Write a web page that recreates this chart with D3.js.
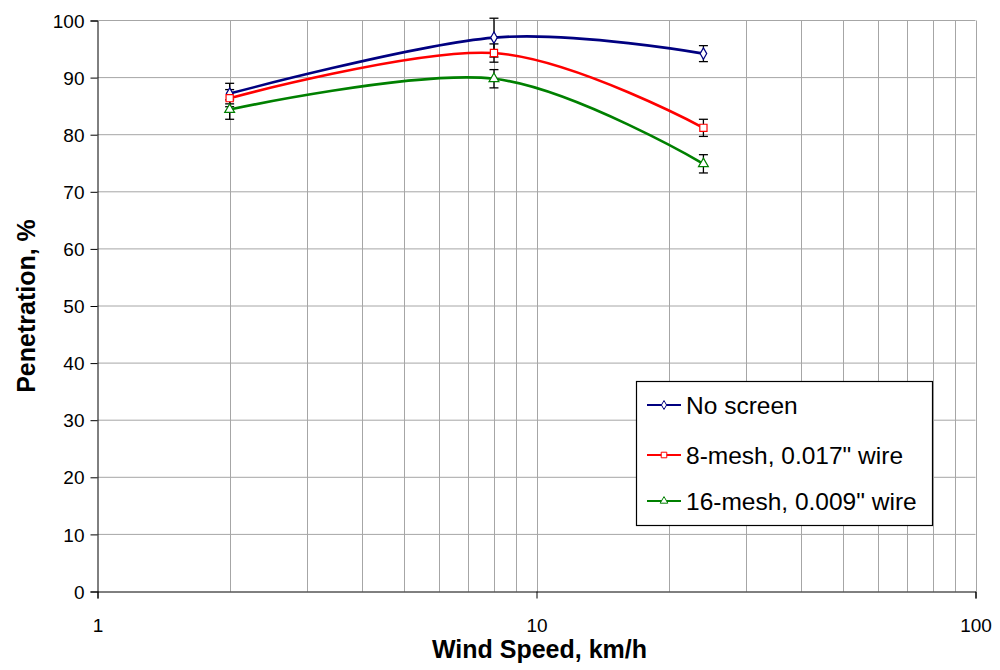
<!DOCTYPE html>
<html>
<head>
<meta charset="utf-8">
<script src="https://cdn.jsdelivr.net/npm/d3@7"></script>
<style>
  html, body { margin: 0; padding: 0; background: #fff; }
  svg { display: block; font-family: "Liberation Sans", Arial, sans-serif; }
</style>
</head>
<body>
<svg id="chart" width="1000" height="670"></svg>
<script>
// Wind speed (km/h) at which penetration was measured
const speeds = [2, 8, 24];

// Penetration (%) per screen configuration, with error half-widths
const seriesNames = ["No screen", "8-mesh, 0.017\" wire", "16-mesh, 0.009\" wire"];
const noScreen = [87.2, 97.0, 94.2];
const noScreenErr = [1.8, 3.4, 1.4];
const mesh8 = [86.4, 94.3, 81.2];
const mesh8Err = [1.5, 1.6, 1.5];
const mesh16 = [84.4, 89.8, 74.9];
const mesh16Err = [1.7, 1.6, 1.6];

// Axis ticks
const xTicks = [1, 10, 100];
const xGrid = [2, 3, 4, 5, 6, 7, 8, 9, 10, 20, 30, 40, 50, 60, 70, 80, 90, 100];
const yTicks = [0, 10, 20, 30, 40, 50, 60, 70, 80, 90, 100];

const colors = ["#000080", "#ff0000", "#008000"];
const symbols = [d3.symbolDiamond, d3.symbolSquare, d3.symbolTriangle];
const symbolSizes = [38, 52, 42];

const series = [
  { name: seriesNames[0], values: noScreen, err: noScreenErr },
  { name: seriesNames[1], values: mesh8, err: mesh8Err },
  { name: seriesNames[2], values: mesh16, err: mesh16Err }
];

const svg = d3.select("#chart");
const plotLeft = 97.5, plotRight = 975.5, plotTop = 20.5, plotBottom = 591.5;

const x = d3.scaleLog().domain([1, 100]).range([plotLeft, plotRight]);
const y = d3.scaleLinear().domain([0, 100]).range([plotBottom, plotTop]);

// Grid lines
const grid = svg.append("g").attr("stroke", "#a6a6a6").attr("stroke-width", 1);
grid.selectAll("line.h").data(yTicks.filter(d => d > 0)).join("line")
  .attr("x1", plotLeft).attr("x2", plotRight)
  .attr("y1", d => y(d)).attr("y2", d => y(d));
grid.selectAll("line.v").data(xGrid).join("line")
  .attr("x1", d => Math.round(x(d)) + 0.5).attr("x2", d => Math.round(x(d)) + 0.5)
  .attr("y1", plotTop).attr("y2", plotBottom);

// Y axis
const yAxis = svg.append("g")
  .attr("transform", `translate(${plotLeft},0)`)
  .call(d3.axisLeft(y).tickValues(yTicks).tickSize(7).tickPadding(6).tickFormat(d3.format("d")));
yAxis.select(".domain").attr("stroke", "#000");
yAxis.selectAll(".tick line").attr("stroke", "#000");
yAxis.selectAll(".tick text").attr("font-size", 19).attr("fill", "#000")
  .attr("font-family", "Liberation Sans, Arial, sans-serif").attr("dy", "0.35em");

// X axis
const xAxis = svg.append("g")
  .attr("transform", `translate(0,${plotBottom})`)
  .call(d3.axisBottom(x).tickValues(xTicks).tickSize(7).tickPadding(20).tickFormat(d3.format("d")));
xAxis.select(".domain").attr("stroke", "#000");
xAxis.selectAll(".tick line").attr("stroke", "#000");
xAxis.selectAll(".tick text").attr("font-size", 19).attr("fill", "#000")
  .attr("font-family", "Liberation Sans, Arial, sans-serif");

// Axis titles
svg.append("text")
  .attr("x", (plotLeft + plotRight) / 2 + 3).attr("y", 658)
  .attr("text-anchor", "middle").attr("font-size", 25).attr("font-weight", "bold")
  .text("Wind Speed, km/h");
svg.append("text")
  .attr("transform", `translate(35,${(plotTop + plotBottom) / 2}) rotate(-90)`)
  .attr("text-anchor", "middle").attr("font-size", 25).attr("font-weight", "bold")
  .text("Penetration, %");

// Error bars
const eb = svg.append("g").attr("stroke", "#000").attr("stroke-width", 1.3);
series.forEach(s => {
  speeds.forEach((v, i) => {
    const cx = x(v), y1 = y(s.values[i] + s.err[i]), y2 = y(s.values[i] - s.err[i]);
    eb.append("line").attr("x1", cx).attr("x2", cx).attr("y1", y1).attr("y2", y2);
    eb.append("line").attr("x1", cx - 4.5).attr("x2", cx + 4.5).attr("y1", y1).attr("y2", y1);
    eb.append("line").attr("x1", cx - 4.5).attr("x2", cx + 4.5).attr("y1", y2).attr("y2", y2);
  });
});

// Smoothed series lines
const line = d3.line()
  .x(d => x(d[0])).y(d => y(d[1]))
  .curve(d3.curveCardinal.tension(0));
series.forEach((s, k) => {
  svg.append("path")
    .datum(speeds.map((v, i) => [v, s.values[i]]))
    .attr("fill", "none").attr("stroke", colors[k]).attr("stroke-width", 2.6)
    .attr("d", line);
});

// Markers
series.forEach((s, k) => {
  svg.append("g").selectAll("path")
    .data(speeds.map((v, i) => [v, s.values[i]]))
    .join("path")
    .attr("transform", d => `translate(${x(d[0])},${y(d[1])})`)
    .attr("d", d3.symbol(symbols[k], symbolSizes[k]))
    .attr("fill", "#fff").attr("stroke", colors[k]).attr("stroke-width", 1.2);
});

// Legend
const lg = svg.append("g");
lg.append("rect")
  .attr("x", 636.5).attr("y", 381.5).attr("width", 296).attr("height", 144)
  .attr("fill", "#fff").attr("stroke", "#000").attr("stroke-width", 1.2);
const rowY = [405, 455, 501];
series.forEach((s, k) => {
  const row = lg.append("g").attr("transform", `translate(0,${rowY[k]})`);
  row.append("line").attr("x1", 647).attr("x2", 681).attr("y1", 0).attr("y2", 0)
    .attr("stroke", colors[k]).attr("stroke-width", 2);
  row.append("path").attr("transform", "translate(664,0)")
    .attr("d", d3.symbol(symbols[k], symbolSizes[k] * 0.6))
    .attr("fill", "#fff").attr("stroke", colors[k]).attr("stroke-width", 1);
  row.append("text").attr("x", 686).attr("y", 9).attr("font-size", 24.5).attr("fill", "#000")
    .text(s.name);
});
</script>
</body>
</html>
